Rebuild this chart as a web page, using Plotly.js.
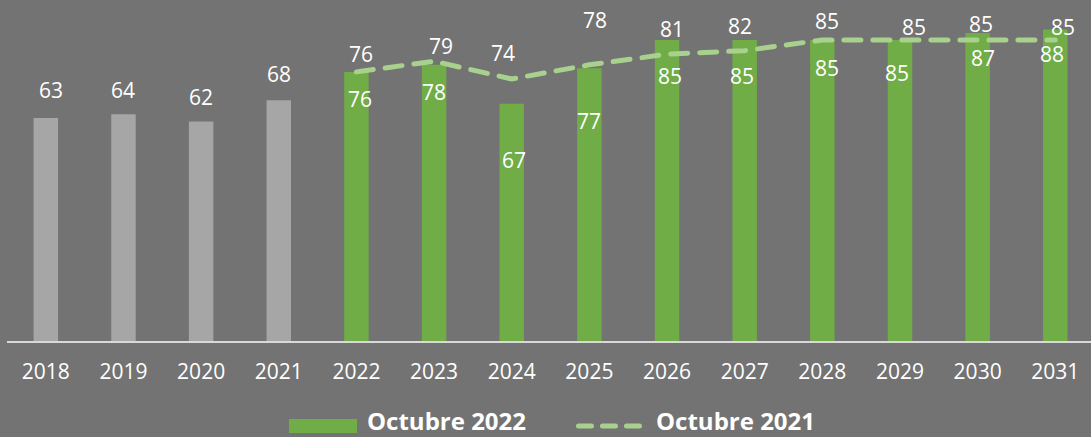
<!DOCTYPE html>
<html>
<head>
<meta charset="utf-8">
<script src="https://cdn.plot.ly/plotly-3.0.1.min.js"></script>
<style>
  html, body { margin: 0; padding: 0; background: #737373; }
  #chart { width: 1091px; height: 437px; }
  .scatterlayer .js-line { stroke-linecap: round; }
  .shapelayer path { stroke-linecap: round; }
</style>
</head>
<body>
<div id="chart"></div>
<script>
// ---------- DATA ----------
const years = ['2018','2019','2020','2021','2022','2023','2024','2025','2026','2027','2028','2029','2030','2031'];
const octubre2022 = [63, 64, 62, 68, 76, 78, 67, 77, 85, 85, 85, 85, 87, 88];
const lineYears = ['2022','2023','2024','2025','2026','2027','2028','2029','2030','2031'];
const octubre2021 = [76, 79, 74, 78, 81, 82, 85, 85, 85, 85];
const seriesNames = ['Octubre 2022', 'Octubre 2021'];
const firstForecastYear = 2022;

// ---------- STYLE ----------
const BG = '#737373';
const GRAY = '#a6a6a6';
const GREEN = '#70ad47';
const LIGHT_GREEN = '#a9d18e';
const WHITE = '#ffffff';
const FONT = 'Open Sans, Noto Sans, sans-serif';
const LABEL_SIZE = 21;

// label offsets in pixels (relative to bar top / line point)
const barLabelDy = [28, 24, 24, 26, -27, -27, -56, -53, -36, -36, -28, -33, -25, -25];
const barLabelDx = [5, 0, 0, 0, 4, 0, 2, 0, 3, -3, 5, -3, 5, -3];
const lineLabelDy = [18, 15, 26, 45, 25, 25, 19, 13, 16, 13];
const lineLabelDx = [5, 7, -9, 6, 5, -5, 5, 14, 3, 8];

const barColors = years.map(y => (parseInt(y, 10) < firstForecastYear ? GRAY : GREEN));

const barTrace = {
  type: 'bar',
  name: seriesNames[0],
  x: years,
  y: octubre2022,
  width: 0.315,
  marker: { color: barColors, line: { width: 0 } },
  hoverinfo: 'skip',
  showlegend: false
};

const lineTrace = {
  type: 'scatter',
  mode: 'lines',
  name: seriesNames[1],
  x: lineYears,
  y: octubre2021,
  line: { color: LIGHT_GREEN, width: 5, dash: '17px,12px' },
  hoverinfo: 'skip',
  showlegend: false
};

const annotations = [];
octubre2022.forEach((v, i) => {
  annotations.push({
    x: i, y: v, xref: 'x', yref: 'y',
    text: String(v), showarrow: false,
    xanchor: 'center', yanchor: 'middle',
    xshift: barLabelDx[i], yshift: barLabelDy[i],
    font: { family: FONT, size: LABEL_SIZE, color: WHITE }
  });
});
octubre2021.forEach((v, i) => {
  annotations.push({
    x: years.indexOf(lineYears[i]), y: v, xref: 'x', yref: 'y',
    text: String(v), showarrow: false,
    xanchor: 'center', yanchor: 'middle',
    xshift: lineLabelDx[i], yshift: lineLabelDy[i],
    font: { family: FONT, size: LABEL_SIZE, color: WHITE }
  });
});

// custom legend (paper coordinates)
const LEG_Y = -0.2317;
annotations.push({
  xref: 'paper', yref: 'paper', x: 0.3303, y: LEG_Y,
  xanchor: 'left', yanchor: 'middle', showarrow: false,
  text: '<b>' + seriesNames[0] + '</b>',
  font: { family: FONT, size: 24, color: WHITE }
});
annotations.push({
  xref: 'paper', yref: 'paper', x: 0.5969, y: LEG_Y,
  xanchor: 'left', yanchor: 'middle', showarrow: false,
  text: '<b>' + seriesNames[1] + '</b>',
  font: { family: FONT, size: 24, color: WHITE }
});

const shapes = [
  {
    type: 'rect', xref: 'paper', yref: 'paper',
    x0: 0.2601, x1: 0.3229, y0: -0.2698, y1: -0.2287,
    fillcolor: GREEN, line: { width: 0 }
  },
  {
    type: 'line', xref: 'paper', yref: 'paper',
    x0: 0.5272, x1: 0.5835, y0: -0.2493, y1: -0.2493,
    line: { color: LIGHT_GREEN, width: 5, dash: '13px,11px' }
  }
];

const layout = {
  width: 1091,
  height: 437,
  paper_bgcolor: BG,
  plot_bgcolor: BG,
  margin: { l: 7, r: 0, t: 0, b: 96, pad: 0 },
  showlegend: false,
  xaxis: {
    type: 'category',
    range: [-0.5, 13.46],
    showline: true,
    linecolor: '#d9d9d9',
    linewidth: 2,
    showgrid: false,
    zeroline: false,
    ticks: '',
    ticklabelstandoff: 11,
    tickfont: { family: FONT, size: LABEL_SIZE, color: WHITE },
    fixedrange: true
  },
  yaxis: {
    range: [0, 96.3],
    showgrid: false,
    zeroline: false,
    showline: false,
    showticklabels: false,
    ticks: '',
    fixedrange: true
  },
  annotations: annotations,
  shapes: shapes
};

Plotly.newPlot('chart', [barTrace, lineTrace], layout, { displayModeBar: false, staticPlot: true });
</script>
</body>
</html>
